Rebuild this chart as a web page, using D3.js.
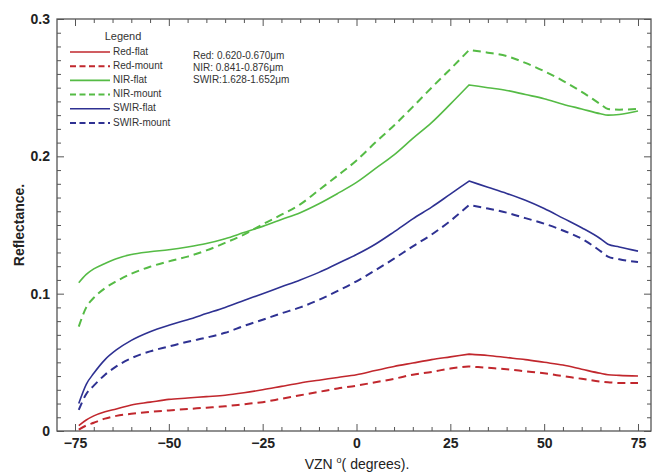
<!DOCTYPE html>
<html>
<head>
<meta charset="utf-8">
<script src="https://cdn.jsdelivr.net/npm/d3@7"></script>
<style>
  body { margin: 0; background: #fff; }
  svg { display: block; font-family: "Liberation Sans", Arial, sans-serif; }
</style>
</head>
<body>
<svg id="chart" width="653" height="475"></svg>
<script>
// ---- Data ----
const vzn = [-74, -72, -70, -67, -64, -60, -55, -50, -45, -40, -35, -30, -25, -20, -15, -10, -5, 0, 5, 10, 15, 20, 25, 30, 35, 40, 45, 50, 55, 60, 65, 67, 70, 75];
const redFlat   = [0.004, 0.008, 0.011, 0.014, 0.016, 0.019, 0.021, 0.023, 0.024, 0.025, 0.026, 0.0278, 0.030, 0.0325, 0.035, 0.037, 0.039, 0.041, 0.0440, 0.047, 0.0495, 0.052, 0.054, 0.056, 0.055, 0.0535, 0.052, 0.050, 0.048, 0.045, 0.042, 0.041, 0.0405, 0.040];
const redMount  = [0.001, 0.004, 0.006, 0.009, 0.011, 0.0125, 0.014, 0.015, 0.016, 0.017, 0.018, 0.0195, 0.021, 0.0235, 0.026, 0.0285, 0.031, 0.033, 0.0355, 0.038, 0.041, 0.043, 0.0455, 0.047, 0.046, 0.045, 0.0435, 0.042, 0.040, 0.038, 0.036, 0.0355, 0.035, 0.035];
const nirFlat   = [0.108, 0.114, 0.118, 0.122, 0.1255, 0.1285, 0.1305, 0.132, 0.134, 0.1365, 0.140, 0.1445, 0.149, 0.154, 0.159, 0.1655, 0.173, 0.181, 0.191, 0.201, 0.213, 0.2245, 0.238, 0.252, 0.250, 0.248, 0.245, 0.242, 0.238, 0.2345, 0.231, 0.230, 0.2305, 0.233];
const nirMount  = [0.076, 0.090, 0.097, 0.104, 0.109, 0.1145, 0.1196, 0.1235, 0.127, 0.1315, 0.137, 0.143, 0.1505, 0.1575, 0.165, 0.1755, 0.186, 0.197, 0.210, 0.2225, 0.236, 0.250, 0.2635, 0.2774, 0.2755, 0.273, 0.268, 0.262, 0.255, 0.247, 0.238, 0.2345, 0.234, 0.2345];
const swirFlat  = [0.020, 0.034, 0.042, 0.052, 0.059, 0.066, 0.0723, 0.077, 0.081, 0.0855, 0.090, 0.095, 0.100, 0.105, 0.110, 0.1155, 0.122, 0.1285, 0.136, 0.145, 0.1545, 0.163, 0.1725, 0.182, 0.1775, 0.173, 0.168, 0.162, 0.155, 0.148, 0.140, 0.136, 0.134, 0.131];
const swirMount = [0.0153, 0.027, 0.033, 0.041, 0.047, 0.053, 0.058, 0.0615, 0.065, 0.068, 0.0715, 0.0765, 0.081, 0.0857, 0.090, 0.0955, 0.102, 0.109, 0.117, 0.1255, 0.1345, 0.143, 0.153, 0.1646, 0.162, 0.159, 0.155, 0.151, 0.146, 0.140, 0.131, 0.127, 0.125, 0.123];

const seriesNames = ["Red-flat", "Red-mount", "NIR-flat", "NIR-mount", "SWIR-flat", "SWIR-mount"];
const seriesValues = [redFlat, redMount, nirFlat, nirMount, swirFlat, swirMount];
const seriesColors = ["#c1272d", "#c1272d", "#55bb45", "#55bb45", "#2e3192", "#2e3192"];
const seriesDashed = [false, true, false, true, false, true];

const xTicks = [-75, -50, -25, 0, 25, 50, 75];
const yTicks = [0, 0.1, 0.2, 0.3];
const yTickLabels = ["0", "0.1", "0.2", "0.3"];
const bandNotes = ["Red: 0.620-0.670\u03bcm", "NIR: 0.841-0.876\u03bcm", "SWIR:1.628-1.652\u03bcm"];
const peakVzn = 30;

// ---- Layout ----
const svg = d3.select("#chart");
const L = 57, R = 651, T = 19, B = 431;
const x = d3.scaleLinear()
  .domain([-75 - (75 - L) / 3.753, 75 + (R - 638) / 3.753])
  .range([L, R]);
const y = d3.scaleLinear().domain([0, 0.3]).range([B, T]);

const axisColor = "#555";

svg.append("rect").attr("x", L).attr("y", T).attr("width", R - L).attr("height", B - T)
  .attr("fill", "none").attr("stroke", axisColor).attr("stroke-width", 1.3);

const xMinor = d3.range(-75, 76, 5).filter(v => !xTicks.includes(v));
const yMinor = d3.range(0, 0.301, 0.01).map(v => +v.toFixed(2)).filter(v => !yTicks.includes(v));

function styleAxis(g) {
  g.select(".domain").remove();
  g.selectAll(".tick line").attr("stroke", axisColor).attr("stroke-width", 1);
}
function styleLabels(g) {
  g.selectAll("text").attr("font-size", 14).attr("font-weight", "bold").attr("fill", "#222")
    .attr("font-family", "Liberation Sans, Arial, sans-serif");
}

svg.append("g").attr("transform", `translate(0,${B})`)
  .call(d3.axisBottom(x).tickValues(xTicks).tickSize(-7).tickPadding(7).tickFormat(d3.format("d")))
  .call(styleAxis).call(styleLabels);
svg.append("g").attr("transform", `translate(0,${B})`)
  .call(d3.axisBottom(x).tickValues(xMinor).tickSize(-4).tickFormat(""))
  .call(styleAxis);
svg.append("g").attr("transform", `translate(0,${T})`)
  .call(d3.axisTop(x).tickValues(xTicks).tickSize(-7).tickFormat(""))
  .call(styleAxis);
svg.append("g").attr("transform", `translate(0,${T})`)
  .call(d3.axisTop(x).tickValues(xMinor).tickSize(-4).tickFormat(""))
  .call(styleAxis);
svg.append("g").attr("transform", `translate(${L},0)`)
  .call(d3.axisLeft(y).tickValues(yTicks).tickSize(-7).tickPadding(7).tickFormat((d, i) => yTickLabels[i]))
  .call(styleAxis).call(styleLabels);
svg.append("g").attr("transform", `translate(${L},0)`)
  .call(d3.axisLeft(y).tickValues(yMinor).tickSize(-4).tickFormat(""))
  .call(styleAxis);
svg.append("g").attr("transform", `translate(${R},0)`)
  .call(d3.axisRight(y).tickValues(yTicks).tickSize(-7).tickFormat(""))
  .call(styleAxis);
svg.append("g").attr("transform", `translate(${R},0)`)
  .call(d3.axisRight(y).tickValues(yMinor).tickSize(-4).tickFormat(""))
  .call(styleAxis);

// axis titles
svg.append("text").attr("transform", `translate(20,${(T + B) / 2}) rotate(-90)`)
  .attr("text-anchor", "middle").attr("dominant-baseline", "middle")
  .attr("font-size", 14).attr("font-weight", "bold").attr("fill", "#222").text("Reflectance.");
const xt = svg.append("text").attr("x", 357).attr("y", 469).attr("text-anchor", "middle")
  .attr("font-size", 14).attr("fill", "#222");
xt.append("tspan").text("VZN ");
xt.append("tspan").attr("font-size", 9).attr("dy", -6).text("o");
xt.append("tspan").attr("dy", 6).text("( degrees).");

// lines: smooth on each side of the sharp peak
const line = d3.line().x(d => x(d[0])).y(d => y(d[1])).curve(d3.curveMonotoneX);
seriesValues.forEach((vals, k) => {
  const pts = vzn.map((v, i) => [v, vals[i]]);
  const left = pts.filter(p => p[0] <= peakVzn);
  const right = pts.filter(p => p[0] >= peakVzn);
  const d = line(left) + line(right).replace(/^M/, "L");
  svg.append("path")
    .attr("d", d)
    .attr("fill", "none")
    .attr("stroke", seriesColors[k])
    .attr("stroke-width", seriesDashed[k] ? 2 : 1.6)
    .attr("stroke-dasharray", seriesDashed[k] ? "8,5" : null)
    .attr("stroke-linejoin", "round");
});

// legend
svg.append("text").attr("x", 123).attr("y", 37).attr("text-anchor", "middle")
  .attr("dominant-baseline", "middle").attr("font-size", 11).attr("fill", "#333").text("Legend");
seriesNames.forEach((name, k) => {
  const yy = 52 + k * 14.2;
  svg.append("line").attr("x1", 70).attr("x2", 110).attr("y1", yy).attr("y2", yy)
    .attr("stroke", seriesColors[k]).attr("stroke-width", seriesDashed[k] ? 2 : 1.6)
    .attr("stroke-dasharray", seriesDashed[k] ? "6,3.5" : null);
  svg.append("text").attr("x", 113).attr("y", yy).attr("dominant-baseline", "middle")
    .attr("font-size", 10).attr("fill", "#333").text(name);
});
bandNotes.forEach((t, k) => {
  svg.append("text").attr("x", 193).attr("y", 56 + k * 12.3).attr("dominant-baseline", "middle")
    .attr("font-size", 10).attr("fill", "#333").text(t);
});
</script>
</body>
</html>
